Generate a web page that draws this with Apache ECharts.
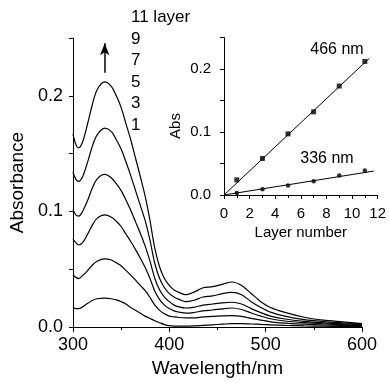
<!DOCTYPE html>
<html>
<head>
<meta charset="utf-8">
<script src="https://cdn.jsdelivr.net/npm/echarts@6/dist/echarts.min.js"></script>
<style>
  html, body { margin: 0; padding: 0; background: #fff; }
  #chart { width: 389px; height: 383px; }
</style>
</head>
<body>
<div id="chart"></div>
<script>
const FONT = "'Liberation Sans', Arial, sans-serif";

// main spectra
const wavelengths = [300, 303, 306, 310, 315, 320, 325, 333, 340, 345, 350, 355, 360, 365, 370, 375, 380, 385, 390, 395, 400, 405, 410, 417,
  425, 435, 445, 455, 465, 475, 485, 495, 505, 520, 540, 560, 580, 600];
const layer11 = [.167, .158, .155, .160, .175, .192, .205, .212, .208, .200, .190, .176, .162, .146, .130, .113, .092, .068, .052, .042, .036, .032, .030, .028,
  .030, .034, .035, .037, .039, .036, .029, .022, .017, .0127, .0085, .006, .0045, .003];
const layer9 = [.134, .128, .126, .130, .142, .156, .166, .172, .169, .162, .154, .143, .131, .118, .105, .092, .075, .055, .042, .034, .029, .026, .024, .022,
  .023, .026, .027, .029, .030, .028, .022, .017, .013, .0095, .0065, .0048, .0036, .0025];
const layer7 = [.102, .097, .096, .100, .109, .120, .128, .132, .129, .124, .118, .110, .101, .091, .081, .070, .057, .042, .032, .026, .022, .019, .0175, .0165,
  .017, .019, .020, .021, .0215, .020, .016, .0125, .0095, .007, .005, .0037, .0028, .002];
const layer5 = [.076, .073, .071, .073, .080, .088, .094, .097, .095, .0915, .087, .0805, .074, .067, .0595, .0515, .042, .031, .0238, .019, .016, .014, .013, .012,
  .0125, .014, .0148, .0158, .0165, .0152, .0122, .0095, .0072, .0053, .0038, .0028, .0021, .0015];
const layer3 = [.045, .043, .042, .0445, .0487, .0535, .057, .059, .058, .0556, .053, .049, .045, .0406, .036, .0315, .0256, .019, .0145, .0115, .0095, .0088, .0083, .008,
  .008, .0088, .0092, .0097, .010, .0093, .0076, .006, .0046, .0034, .0025, .0018, .0014, .001];
const layer1 = [.017, .016, .016, .0175, .0205, .023, .0245, .025, .0245, .0235, .022, .020, .017, .0145, .012, .0095, .0075, .0055, .0038, .0022, .0012, .0008, .0008, .0008,
  .001, .0015, .002, .0025, .003, .003, .0027, .0023, .002, .0015, .001, .0008, .0006, .0005];
const layerLabels = ["11 layer", "9", "7", "5", "3", "1"];

// inset: absorbance vs layer number
const layers = [1, 3, 5, 7, 9, 11];
const abs466 = [0.024, 0.058, 0.097, 0.132, 0.173, 0.212];
const abs336 = [0.003, 0.009, 0.015, 0.022, 0.031, 0.039];
const fit466 = [[0, 0], [11.35, 0.217]];
const fit336 = [[0, 0], [11.7, 0.038]];

const chart = echarts.init(document.getElementById("chart"), null, { renderer: "canvas" });

const axisCommon = {
  axisLine: { show: true, lineStyle: { color: "#000", width: 1 } },
  axisTick: { show: true, inside: false, length: 5, lineStyle: { color: "#000" } },
  splitLine: { show: false },
};

const spectra = [layer11, layer9, layer7, layer5, layer3, layer1].map((vals, i) => ({
  type: "line",
  xAxisIndex: 0,
  yAxisIndex: 0,
  data: wavelengths.map((w, j) => [w, vals[j]]),
  showSymbol: false,
  smooth: 0.3,
  lineStyle: { color: "#000", width: 1.2 },
  markLine: i === 0 ? {
    silent: true,
    symbol: ["none", "arrow"],
    symbolSize: [7, 12],
    label: { show: false },
    lineStyle: { color: "#000", width: 1.5, type: "solid" },
    data: [[{ coord: [333, 0.220] }, { coord: [333, 0.2455] }]],
  } : undefined,
}));

const labelGraphics = layerLabels.map((t, i) => ({
  type: "text",
  left: 131,
  top: 9 + i * 21.5,
  style: { text: t, fontFamily: FONT, fontSize: 17, fill: "#000" },
}));

chart.setOption({
  animation: false,
  grid: [
    { left: 67, top: 38, width: 295, height: 295 },
    { left: 224, top: 37.5, width: 157.5, height: 157.5 },
  ],
  xAxis: [
    {
      ...axisCommon,
      gridIndex: 0,
      type: "value",
      min: 300,
      max: 600,
      interval: 100,
      minorTick: { show: true, splitNumber: 2, length: 3, lineStyle: { color: "#000" } },
      axisLabel: { color: "#000", fontFamily: FONT, fontSize: 18, margin: 9 },
      name: "Wavelength/nm",
      nameLocation: "middle",
      nameGap: 26,
      nameTextStyle: { color: "#000", fontFamily: FONT, fontSize: 19 },
    },
    {
      ...axisCommon,
      gridIndex: 1,
      type: "value",
      min: 0,
      max: 12,
      interval: 2,
      axisTick: { show: true, length: 4, lineStyle: { color: "#000" } },
      minorTick: { show: true, splitNumber: 2, length: 3, lineStyle: { color: "#000" } },
      axisLabel: { color: "#000", fontFamily: FONT, fontSize: 15, margin: 11 },
      name: "Layer number",
      nameLocation: "middle",
      nameGap: 30,
      nameTextStyle: { color: "#000", fontFamily: FONT, fontSize: 15 },
    },
  ],
  yAxis: [
    {
      ...axisCommon,
      gridIndex: 0,
      type: "value",
      min: 0,
      max: 0.25,
      interval: 0.05,
      axisTick: { show: true, length: 4, lineStyle: { color: "#000" } },
      axisLabel: {
        color: "#000", fontFamily: FONT, fontSize: 18, margin: 10,
        formatter: (v) => (Math.round(v * 100) % 10 === 0 ? v.toFixed(1) : ""),
      },
      name: "Absorbance",
      nameLocation: "middle",
      nameGap: 37,
      nameTextStyle: { color: "#000", fontFamily: FONT, fontSize: 19 },
    },
    {
      ...axisCommon,
      gridIndex: 1,
      type: "value",
      min: 0,
      max: 0.25,
      interval: 0.05,
      axisTick: { show: true, length: 4, lineStyle: { color: "#000" } },
      axisLabel: {
        color: "#000", fontFamily: FONT, fontSize: 15, margin: 13,
        formatter: (v) => (Math.round(v * 100) % 10 === 0 ? v.toFixed(1) : ""),
      },
    },
  ],
  graphic: [
    ...labelGraphics,
    {
      type: "text",
      x: 176,
      y: 126,
      rotation: Math.PI / 2,
      style: { text: "Abs", fontFamily: FONT, fontSize: 15, fill: "#000", align: "center", verticalAlign: "middle" },
    },
    {
      type: "text",
      x: 337,
      y: 50,
      style: { text: "466 nm", fontFamily: FONT, fontSize: 16, fill: "#000", align: "center", verticalAlign: "middle" },
    },
    {
      type: "text",
      x: 327,
      y: 159,
      style: { text: "336 nm", fontFamily: FONT, fontSize: 16, fill: "#000", align: "center", verticalAlign: "middle" },
    },
  ],
  series: [
    ...spectra,
    {
      type: "line", xAxisIndex: 1, yAxisIndex: 1, data: fit466,
      showSymbol: false, lineStyle: { color: "#000", width: 1 },
    },
    {
      type: "line", xAxisIndex: 1, yAxisIndex: 1, data: fit336,
      showSymbol: false, lineStyle: { color: "#000", width: 1 },
    },
    {
      type: "scatter", xAxisIndex: 1, yAxisIndex: 1,
      data: layers.map((l, i) => [l, abs466[i]]),
      symbol: "rect", symbolSize: 5, itemStyle: { color: "#000" },
    },
    {
      type: "scatter", xAxisIndex: 1, yAxisIndex: 1,
      data: layers.map((l, i) => [l, abs336[i]]),
      symbol: "circle", symbolSize: 4.5, itemStyle: { color: "#000" },
    },
  ],
});
</script>
</body>
</html>
